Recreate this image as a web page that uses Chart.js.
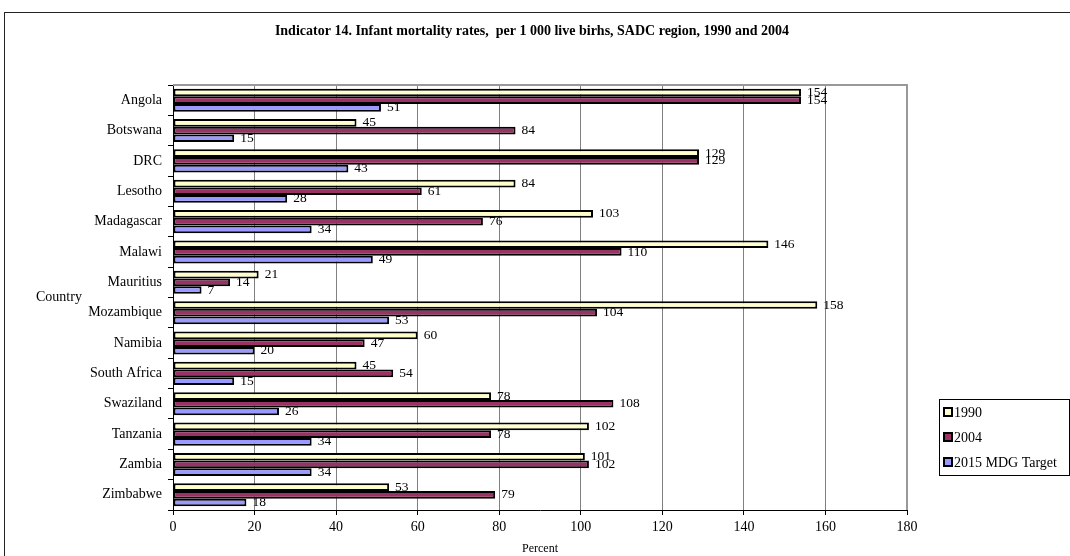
<!DOCTYPE html>
<html>
<head>
<meta charset="utf-8">
<script src="https://cdn.jsdelivr.net/npm/chart.js@4.4.1/dist/chart.umd.min.js"></script>
<style>
  html, body { margin: 0; padding: 0; background: #fff; overflow: hidden; }
  #wrap { position: relative; width: 1070px; height: 556px; }
  #frame { position: absolute; left: 4px; top: 12px; width: 1100px; height: 600px;
           border: 1.5px solid #222; box-sizing: border-box; }
  canvas { position: absolute; left: 0; top: 0; }
</style>
</head>
<body>
<div id="wrap">
  <div id="frame"></div>
  <canvas id="chart" width="1070" height="556"></canvas>
</div>
<script>
// Infant mortality per 1 000 live births, SADC member states
const countries = ['Angola', 'Botswana', 'DRC', 'Lesotho', 'Madagascar', 'Malawi', 'Mauritius',
  'Mozambique', 'Namibia', 'South Africa', 'Swaziland', 'Tanzania', 'Zambia', 'Zimbabwe'];
const rate1990 = [154, 45, 129, 84, 103, 146, 21, 158, 60, 45, 78, 102, 101, 53];
const rate2004 = [154, 84, 129, 61, 76, 110, 14, 104, 47, 54, 108, 78, 102, 79];
const mdgTarget2015 = [51, 15, 43, 28, 34, 49, 7, 53, 20, 15, 26, 34, 34, 18];
const seriesNames = ['1990', '2004', '2015 MDG Target'];
const seriesColors = ['#FFFFCC', '#993366', '#9999FF'];
const chartTitle = 'Indicator 14. Infant mortality rates,  per 1 000 live birhs, SADC region, 1990 and 2004';

const serif = 'Liberation Serif, "Times New Roman", serif';

// Value labels at the end of each bar
const valueLabels = {
  id: 'valueLabels',
  afterDatasetsDraw(chart) {
    const ctx = chart.ctx;
    ctx.save();
    ctx.font = '13.5px ' + serif;
    ctx.fillStyle = '#000';
    ctx.textAlign = 'left';
    ctx.textBaseline = 'middle';
    chart.data.datasets.forEach((ds, i) => {
      chart.getDatasetMeta(i).data.forEach((bar, j) => {
        ctx.fillText(String(ds.data[j]), bar.x + 6, bar.y);
      });
    });
    ctx.restore();
  }
};

// Title, plot-area frame, axis caption and the boxed legend
const decorations = {
  id: 'decorations',
  beforeDatasetsDraw(chart) {
    const { ctx, chartArea: a } = chart;
    ctx.save();
    ctx.strokeStyle = '#999';
    ctx.lineWidth = 2;
    ctx.beginPath();
    ctx.moveTo(a.left, a.top);
    ctx.lineTo(a.right, a.top);
    ctx.lineTo(a.right, a.bottom);
    ctx.stroke();
    ctx.restore();
  },
  afterDraw(chart) {
    const { ctx, chartArea: a } = chart;
    ctx.save();
    ctx.fillStyle = '#000';
    ctx.font = 'bold 14px ' + serif;
    ctx.textAlign = 'center';
    ctx.textBaseline = 'middle';
    ctx.fillText(chartTitle, 532, 31);

    ctx.font = '14px ' + serif;
    ctx.textAlign = 'left';
    ctx.fillText('Country', 36, (a.top + a.bottom) / 2);

    // legend
    const lx = 939, ly = 399, lw = 130, lh = 76;
    ctx.fillStyle = '#fff';
    ctx.fillRect(lx, ly, lw, lh);
    ctx.strokeStyle = '#000';
    ctx.lineWidth = 1;
    ctx.strokeRect(lx + 0.5, ly + 0.5, lw, lh);
    ctx.font = '14px ' + serif;
    chart.data.datasets.forEach((ds, i) => {
      const cy = ly + 13 + i * 25;
      ctx.fillStyle = ds.backgroundColor;
      ctx.fillRect(lx + 5, cy - 4, 8, 8);
      ctx.strokeStyle = '#000';
      ctx.lineWidth = 2;
      ctx.strokeRect(lx + 5, cy - 4, 8, 8);
      ctx.fillStyle = '#000';
      ctx.fillText(ds.label, lx + 15, cy + 1);
    });
    ctx.restore();
  }
};

new Chart(document.getElementById('chart'), {
  type: 'bar',
  data: {
    labels: countries,
    datasets: [rate1990, rate2004, mdgTarget2015].map((values, i) => ({
      label: seriesNames[i],
      data: values,
      backgroundColor: seriesColors[i],
      borderColor: '#000',
      borderWidth: 2,
      borderSkipped: false,
      categoryPercentage: 0.76,
      barPercentage: 1.0
    }))
  },
  options: {
    indexAxis: 'y',
    responsive: false,
    animation: false,
    layout: { padding: { left: 0, right: 163, top: 85, bottom: 0 } },
    plugins: {
      legend: { display: false },
      tooltip: { enabled: false },
      title: { display: false }
    },
    scales: {
      x: {
        min: 0, max: 180,
        ticks: { stepSize: 20, color: '#000', font: { family: serif, size: 14 }, padding: 4 },
        grid: { color: '#808080', lineWidth: 1, tickLength: 5, tickColor: '#000' },
        border: { color: '#000', width: 1 },
        title: { display: true, text: 'Percent', color: '#000',
                 font: { family: serif, size: 12 }, padding: { top: 0, bottom: 0 } },
        afterFit(scale) { scale.height = 46; }
      },
      y: {
        ticks: { color: '#000', font: { family: serif, size: 14 }, padding: 6 },
        grid: { offset: true, drawOnChartArea: false, tickLength: 5, color: '#000' },
        border: { color: '#000', width: 1 },
        afterFit(scale) { scale.width = 173; }
      }
    }
  },
  plugins: [decorations, valueLabels]
});
</script>
</body>
</html>
